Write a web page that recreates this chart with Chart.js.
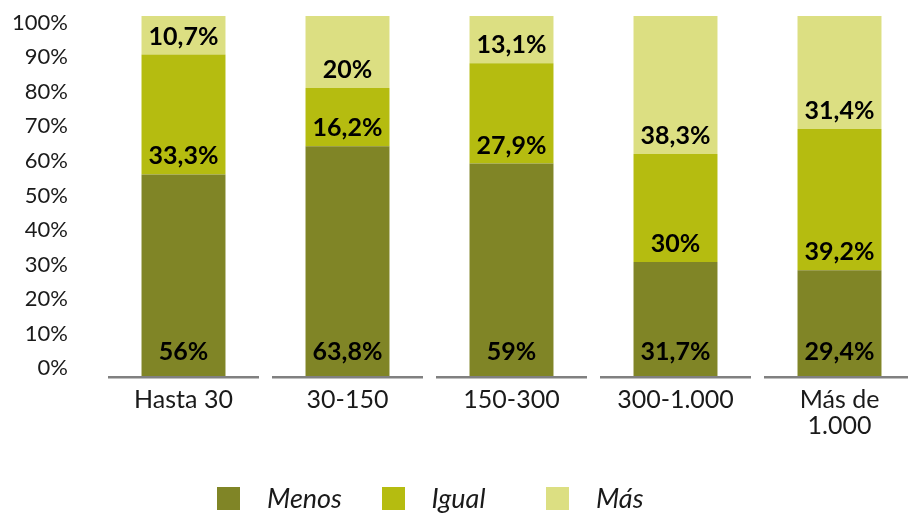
<!DOCTYPE html>
<html lang="es">
<head>
<meta charset="utf-8">
<script src="https://cdn.jsdelivr.net/npm/chart.js@4.4.0/dist/chart.umd.min.js"></script>
<style>
    html, body { margin: 0; padding: 0; background: #ffffff; overflow: hidden; }
    body { width: 908px; height: 516px; position: relative; }
    #wrap { position: absolute; left: 0; top: 0; width: 930px; height: 516px; }
    #legend {
        position: absolute; left: 217px; top: 482px;
        display: flex; font-family: Lato, sans-serif; font-style: italic;
        font-size: 27px; line-height: 32px; color: #1a1a1a;
    }
    .leg-item { display: flex; align-items: center; width: 164.5px; }
    .leg-box { width: 23px; height: 23px; margin-right: 27px; }
</style>
</head>
<body>
<div id="wrap"><canvas id="chart"></canvas></div>
<div id="legend"></div>
<script>
// Company size groups
const CATEGORIES = ["Hasta 30", "30-150", "150-300", "300-1.000", ["Más de", "1.000"]];

// Share of answers per group (%)
const MENOS = [56, 63.8, 59, 31.7, 29.4];
const IGUAL = [33.3, 16.2, 27.9, 30, 39.2];
const MAS = [10.7, 20, 13.1, 38.3, 31.4];

const SERIES_NAMES = ["Menos", "Igual", "Más"];
const Y_TICKS = [0, 10, 20, 30, 40, 50, 60, 70, 80, 90, 100];

const COLORS = ["#808526", "#b5bc10", "#dcdf82"];
const FONT = "Lato, sans-serif";

// Prints the value near the base of every segment
const segmentLabels = {
    id: "segmentLabels",
    afterDatasetsDraw(chart) {
        const ctx = chart.ctx;
        ctx.save();
        ctx.font = "bold 25px " + FONT;
        ctx.fillStyle = "#000000";
        ctx.textAlign = "center";
        ctx.textBaseline = "middle";
        chart.data.datasets.forEach((ds, d) => {
            const lift = d === 0 ? 24 : 18;
            chart.getDatasetMeta(d).data.forEach((bar, i) => {
                const txt = String(ds.data[i]).replace(".", ",") + "%";
                ctx.fillText(txt, bar.x, bar.base - lift);
            });
        });
        ctx.restore();
    }
};

// Base line split into one piece per category
const splitAxis = {
    id: "splitAxis",
    afterDatasetsDraw(chart) {
        const x = chart.scales.x;
        const ctx = chart.ctx;
        const half = x.width / CATEGORIES.length / 2 - 6.5;
        const y = chart.chartArea.bottom + 1.2;
        ctx.save();
        ctx.strokeStyle = "#808080";
        ctx.lineWidth = 2.6;
        CATEGORIES.forEach((c, i) => {
            const cx = x.getPixelForValue(i);
            ctx.beginPath();
            ctx.moveTo(cx - half, y);
            ctx.lineTo(cx + half, y);
            ctx.stroke();
        });
        ctx.restore();
    }
};

const datasets = [MENOS, IGUAL, MAS].map((vals, i) => ({
    label: SERIES_NAMES[i],
    data: vals,
    backgroundColor: COLORS[i],
    borderWidth: 0,
    barPercentage: 1,
    categoryPercentage: 0.512
}));

const ctx = document.getElementById("chart").getContext("2d");
const chart = new Chart(ctx, {
    type: "bar",
    data: { labels: CATEGORIES, datasets: datasets },
    options: {
        responsive: true,
        maintainAspectRatio: false,
        animation: false,
        layout: { padding: { top: 16, right: 8.5, bottom: 0, left: 0 } },
        plugins: {
            legend: { display: false },
            tooltip: { enabled: false }
        },
        scales: {
            x: {
                stacked: true,
                grid: { display: false, drawTicks: false },
                border: { display: false },
                ticks: {
                    color: "#1a1a1a",
                    padding: 11,
                    font: { family: FONT, size: 25, lineHeight: 1.05 },
                    maxRotation: 0
                },
                afterFit: s => { s.height = 140; }
            },
            y: {
                stacked: true,
                display: false,
                min: 0,
                max: 100
            },
            // label-only axis for the percent ticks
            yl: {
                position: "left",
                min: -2.23,
                max: 101.94,
                grid: { display: false, drawTicks: false },
                border: { display: false },
                ticks: {
                    color: "#1a1a1a",
                    padding: 33.5,
                    font: { family: FONT, size: 22 },
                    callback: v => v + "%"
                },
                afterBuildTicks: s => { s.ticks = Y_TICKS.map(v => ({ value: v })); },
                afterFit: s => {
                    s.width = 101.5;
                    // tick padding should not push the plot down
                    s.paddingTop = 0;
                    s.paddingBottom = 0;
                }
            }
        }
    },
    plugins: [segmentLabels, splitAxis]
});

// Legend below the plot
const legend = document.getElementById("legend");
SERIES_NAMES.forEach((name, i) => {
    const item = document.createElement("div");
    item.className = "leg-item";
    item.innerHTML = `<span class="leg-box" style="background:${COLORS[i]}"></span><span>${name}</span>`;
    legend.appendChild(item);
});
</script>
</body>
</html>
